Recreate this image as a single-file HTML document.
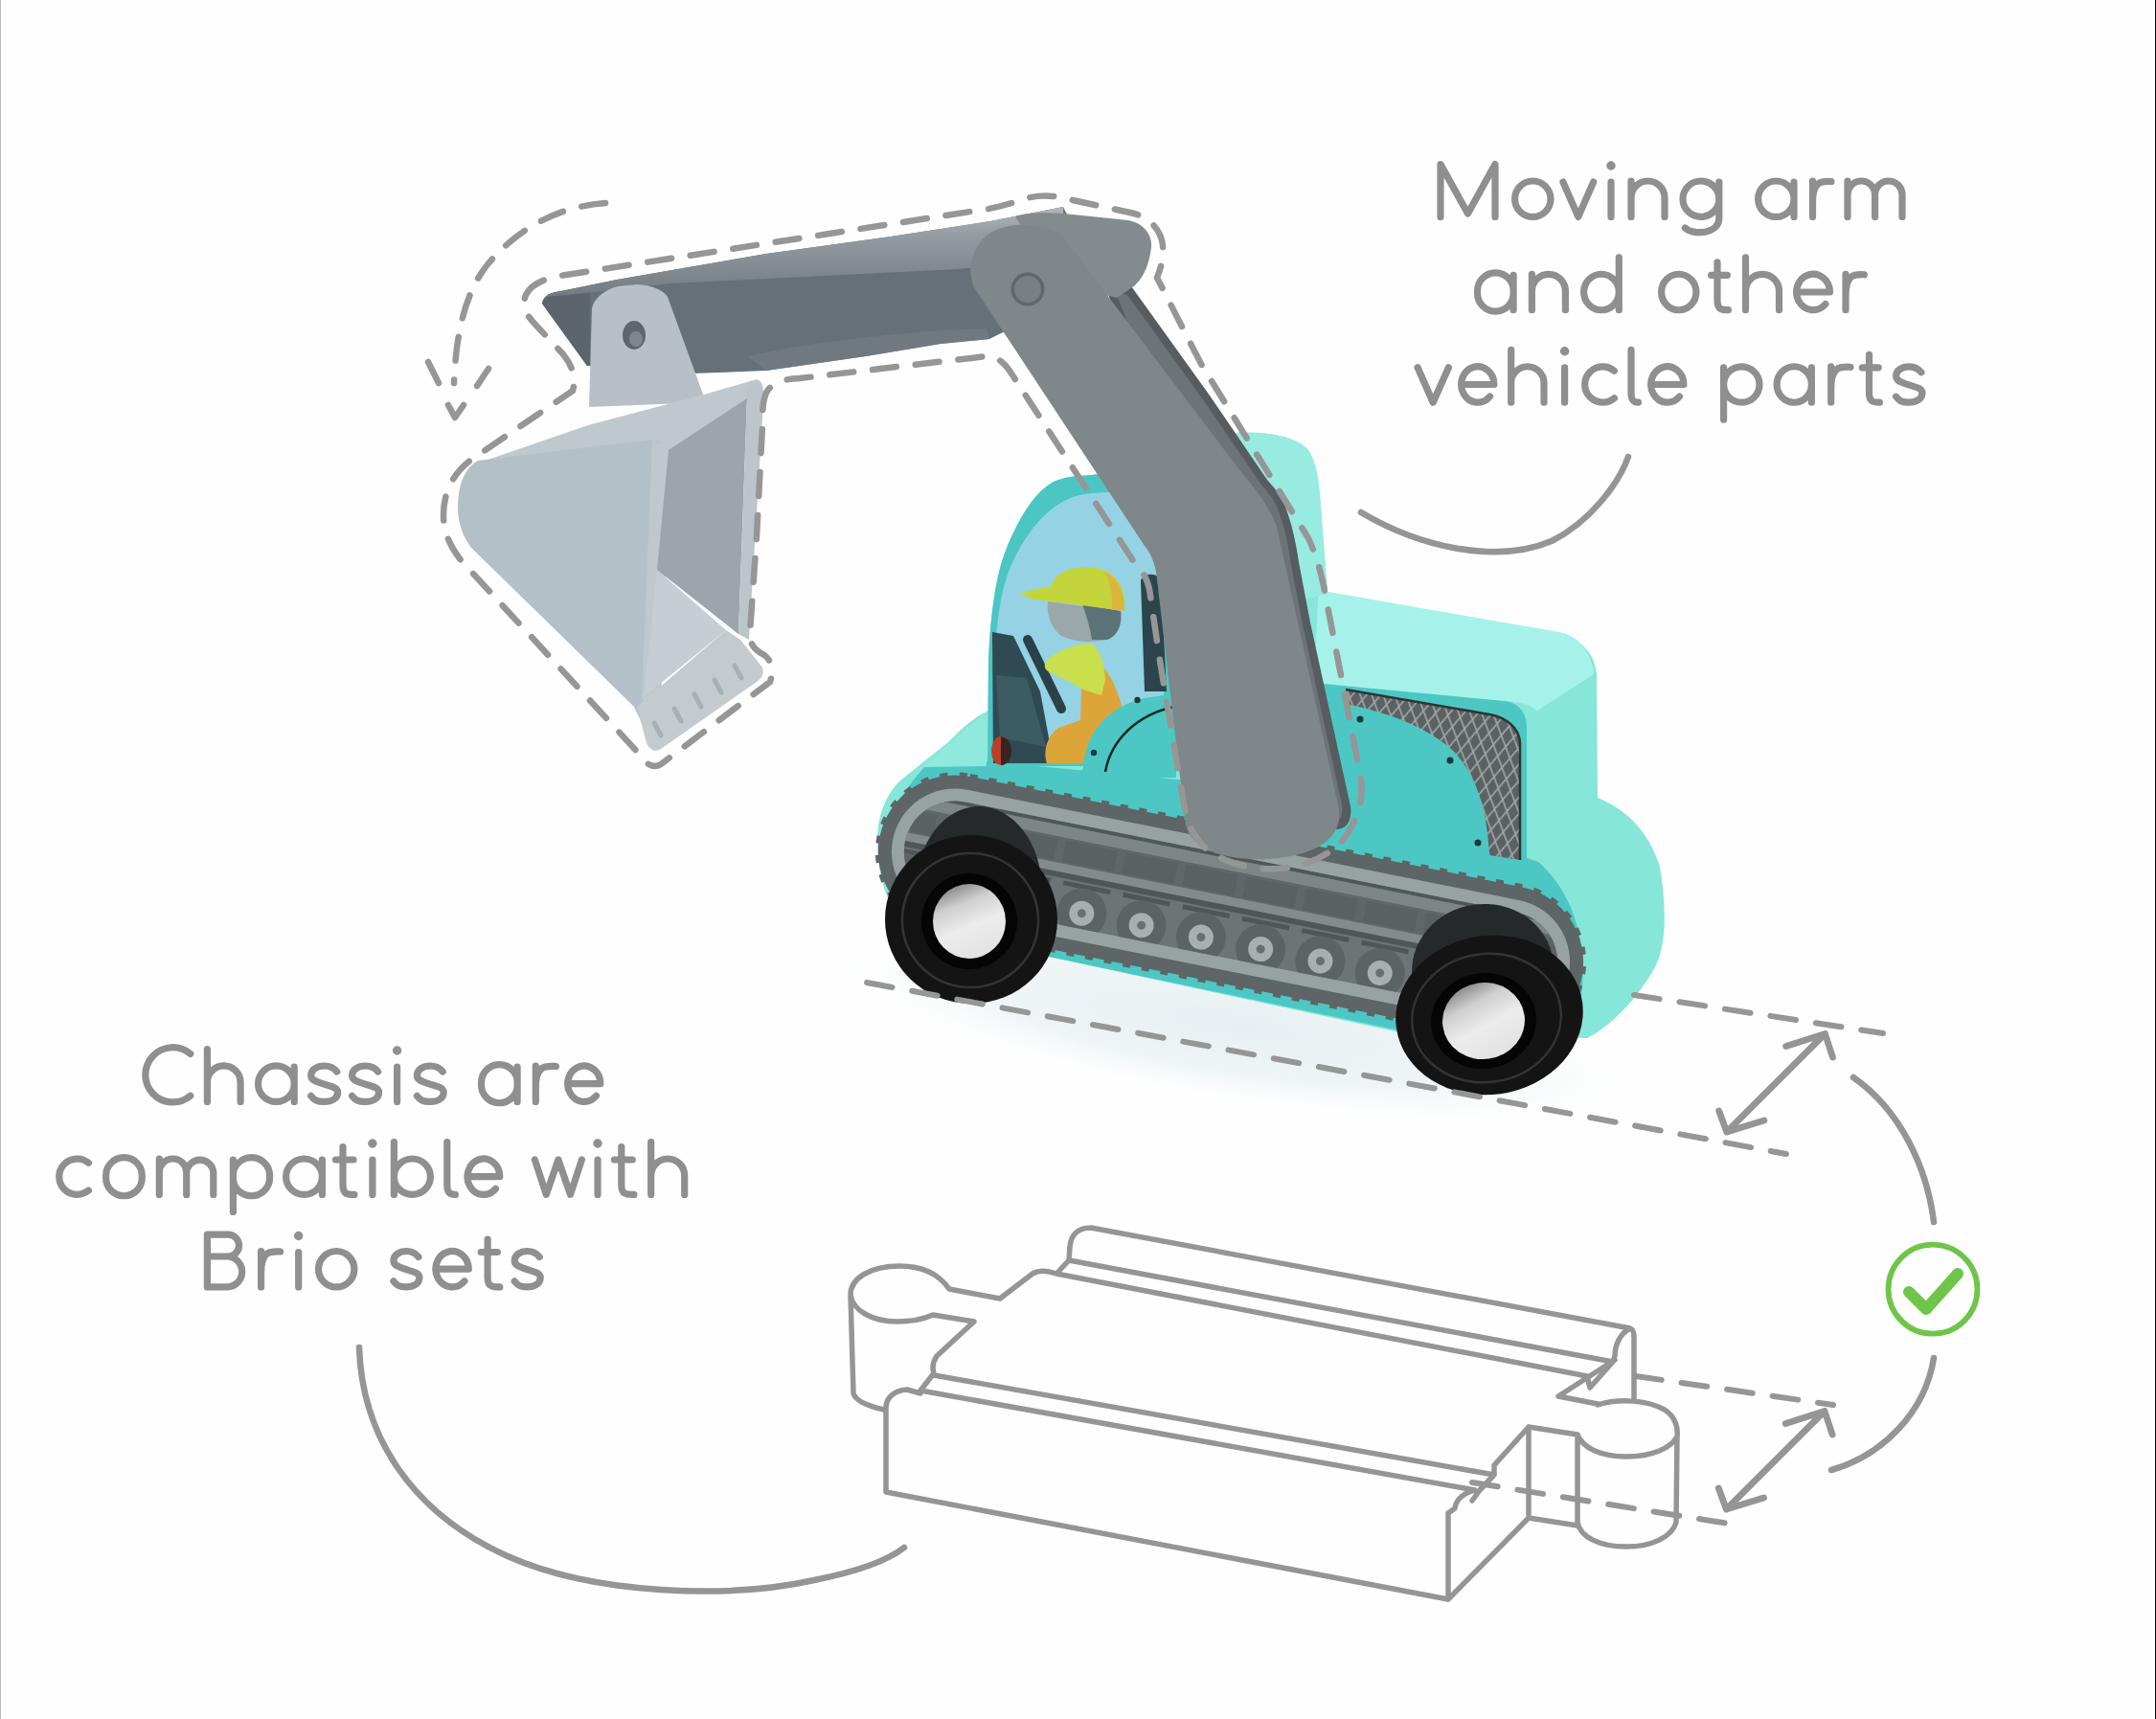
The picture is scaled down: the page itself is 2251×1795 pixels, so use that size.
<!DOCTYPE html>
<html><head><meta charset="utf-8"><title>Excavator</title>
<style>html,body{margin:0;padding:0;background:#fefefe;font-family:"Liberation Sans",sans-serif;}svg{display:block}</style>
</head><body>
<svg xmlns="http://www.w3.org/2000/svg" width="2251" height="1795" viewBox="0 0 2251 1795"><defs>
<radialGradient id="shadow" cx="0.5" cy="0.5" r="0.5"><stop offset="0" stop-color="#e6eff2"/><stop offset="0.6" stop-color="#eff5f7"/><stop offset="1" stop-color="#fefefe" stop-opacity="0"/></radialGradient>
<radialGradient id="shadow2" cx="0.5" cy="0.5" r="0.5"><stop offset="0" stop-color="#f6f8f9"/><stop offset="1" stop-color="#fefefe" stop-opacity="0"/></radialGradient>
<linearGradient id="hub" x1="0.2" y1="0" x2="0.6" y2="1"><stop offset="0" stop-color="#7c7c7c"/><stop offset="0.3" stop-color="#cfcfcf"/><stop offset="0.6" stop-color="#ececec"/><stop offset="1" stop-color="#e2e2e2"/></linearGradient>
<pattern id="grille" patternUnits="userSpaceOnUse" width="13" height="22" patternTransform="rotate(10)"><rect width="13" height="22" fill="#5b6162"/><path d="M0,0 L13,22 M13,0 L0,22" stroke="#a3aaab" stroke-width="1.6"/></pattern>
<linearGradient id="boomtop" x1="0" y1="0" x2="0.05" y2="1"><stop offset="0" stop-color="#b4babe"/><stop offset="0.35" stop-color="#959ca1"/><stop offset="1" stop-color="#737b82"/></linearGradient>
</defs><rect x="0" y="0" width="2251" height="1795" fill="#fefefe"/>
<ellipse cx="1290" cy="1070" rx="440" ry="85" transform="rotate(9 1290 1070)" fill="url(#shadow)"/>
<path fill="#86e6d9" d="M1031,800 L1032,690 C1034,640 1040,600 1050,575 C1062,545 1078,515 1100,503 C1112,498 1122,497 1140,496 L1290,452 C1330,450 1356,458 1366,470 C1374,482 1377,500 1379,530 L1386,618 L1630,662 C1652,668 1666,684 1667,705 L1668,833 C1700,846 1722,870 1733,905 C1742,960 1738,995 1725,1015 C1710,1040 1685,1070 1657,1084 L1470,1080 L1100,1000 L960,975 C930,960 916,920 916,880 C916,850 925,830 940,815 L990,775 C1005,760 1015,750 1032,742 Z"/>
<path fill="#8fe9dd" d="M924,842 C930,825 945,812 960,802 L1032,742 L1032,800 L965,801 C950,806 935,820 924,842 Z"/>
<path fill="#4cc6c2" d="M1031,800 L1032,690 C1034,640 1040,600 1050,575 C1062,545 1078,515 1100,503 C1112,498 1122,497 1140,496 L1230,486 L1230,800 Z"/>
<path fill="#4dc7c3" d="M1370,713 L1572,732 C1587,735 1594,745 1594,760 L1594,905 L1370,905 Z"/>
<path fill="#a6f2ea" d="M1379,560 L1386,618 L1628,660 C1648,664 1660,680 1663,697 L1664,704 L1605,742 C1600,738 1590,733 1572,732 L1404,716 L1372,712 Z"/>
<path fill="#98ebe0" d="M1290,452 C1330,450 1356,458 1366,470 C1374,482 1377,500 1379,530 L1386,620 L1300,640 Z"/>
<path fill="#4dc7c3" d="M1030,795 L1400,830 L1606,900 C1640,930 1660,980 1650,1050 L1470,1078 L1100,1000 L960,975 C935,955 925,920 926,880 C928,850 940,830 965,801 L1030,800 Z"/>
<path fill="#95d3e4" d="M1038,797 L1039,686 C1040,650 1045,620 1052,600 C1062,572 1080,545 1100,530 C1112,522 1120,517 1140,515 L1215,510 L1215,797 Z"/>
<path fill="#2f4a52" d="M1036,660 L1058,664 L1086,722 L1100,797 L1037,797 Z"/>
<path fill="#42626a" d="M1040,705 L1072,708 L1092,780 L1044,770 Z" opacity="0.7"/>
<path stroke="#2a4148" stroke-width="10" stroke-linecap="round" fill="none" d="M1073,668 L1108,740"/>
<path fill="#2c454c" d="M1191,606 C1193,599 1205,597 1212,604 L1218,722 L1195,722 Z"/>
<path fill="#dca53a" d="M1130,690 C1146,684 1162,702 1172,740 L1176,760 L1150,775 L1148,797 L1093,797 C1089,786 1092,770 1105,760 L1128,752 Z"/>
<path fill="#c9df4b" d="M1095,688 C1106,678 1125,672 1140,672 C1149,680 1153,692 1154,710 L1150,726 C1136,722 1126,719 1118,712 L1098,703 C1090,700 1088,694 1095,688 Z"/>
<path fill="#9aa8a9" d="M1094,628 L1160,637 C1168,648 1166,662 1155,668 C1140,672 1120,670 1108,664 C1100,658 1092,645 1094,628 Z"/>
<path fill="#5b7377" d="M1130,631 L1170,638 C1172,650 1168,664 1156,668 L1140,668 C1138,655 1134,642 1130,631 Z"/>
<path fill="#c4d53c" d="M1066,620 C1075,616 1088,614 1098,612 C1100,600 1115,592 1135,592 C1158,592 1172,606 1174,625 L1174,638 L1098,628 C1085,627 1072,625 1066,620 Z"/>
<path fill="#dbb63a" d="M1152,597 C1167,603 1174,615 1174,638 L1161,636 C1162,620 1159,606 1152,597 Z"/>
<ellipse cx="1045" cy="784" rx="10" ry="15" fill="#b8402a"/>
<path fill="#3a2420" d="M1045,769 C1052,770 1056,777 1056,784 C1056,792 1052,799 1045,799 Z"/>
<path fill="#4dc7c3" d="M1131,802 C1133,762 1160,737 1195,729 L1228,724 L1228,812 L1125,812 Z"/>
<path stroke="#17292a" stroke-width="2.5" fill="none" d="M1154,806 C1160,772 1188,746 1226,738"/>
<circle cx="1187.5" cy="731" r="3.2" fill="#1d3a3a"/><circle cx="1142" cy="786" r="3.2" fill="#1d3a3a"/>
<g transform="rotate(11.31 1285 947.1)"><rect x="912.2" y="868.0" width="745.6" height="158.2" rx="79.1" fill="none" stroke="#5d6566" stroke-width="8" stroke-dasharray="8 12"/><rect x="911.2" y="867.0" width="747.6" height="160.2" rx="80.1" fill="#5d6566" /><rect x="925.2" y="881.0" width="719.6" height="132.2" rx="66.1" fill="#97a2a3" /><rect x="938.2" y="894.0" width="693.6" height="106.2" rx="53.1" fill="#6c7475" /><clipPath id="tin"><rect x="938.2" y="894.0" width="693.6" height="106.2" rx="53.1"/></clipPath><g clip-path="url(#tin)"><rect x="911.2" y="894.0" width="747.6" height="4.0" fill="#505758"/><rect x="911.2" y="898.0" width="747.6" height="12.0" fill="#7c8687"/><rect x="911.2" y="910.0" width="747.6" height="27.0" fill="#5f6768"/><rect x="911.2" y="937.0" width="747.6" height="9.0" fill="#838c8d"/><rect x="911.2" y="946.0" width="747.6" height="6.0" fill="#4f5657"/><rect x="791.2" y="954.1" width="50" height="5" fill="#4f5657"/><circle cx="816.2" cy="984.1" r="26" fill="#5b6364"/><circle cx="816.2" cy="984.1" r="13" fill="#a7afb0"/><circle cx="816.2" cy="984.1" r="4.5" fill="#687072"/><rect x="854.7" y="954.1" width="50" height="5" fill="#4f5657"/><circle cx="879.7" cy="984.1" r="26" fill="#5b6364"/><circle cx="879.7" cy="984.1" r="13" fill="#a7afb0"/><circle cx="879.7" cy="984.1" r="4.5" fill="#687072"/><rect x="918.2" y="954.1" width="50" height="5" fill="#4f5657"/><circle cx="943.2" cy="984.1" r="26" fill="#5b6364"/><circle cx="943.2" cy="984.1" r="13" fill="#a7afb0"/><circle cx="943.2" cy="984.1" r="4.5" fill="#687072"/><rect x="981.7" y="954.1" width="50" height="5" fill="#4f5657"/><circle cx="1006.7" cy="984.1" r="26" fill="#5b6364"/><circle cx="1006.7" cy="984.1" r="13" fill="#a7afb0"/><circle cx="1006.7" cy="984.1" r="4.5" fill="#687072"/><rect x="1045.2" y="954.1" width="50" height="5" fill="#4f5657"/><circle cx="1070.2" cy="984.1" r="26" fill="#5b6364"/><circle cx="1070.2" cy="984.1" r="13" fill="#a7afb0"/><circle cx="1070.2" cy="984.1" r="4.5" fill="#687072"/><rect x="1108.7" y="954.1" width="50" height="5" fill="#4f5657"/><circle cx="1133.7" cy="984.1" r="26" fill="#5b6364"/><circle cx="1133.7" cy="984.1" r="13" fill="#a7afb0"/><circle cx="1133.7" cy="984.1" r="4.5" fill="#687072"/><rect x="1172.2" y="954.1" width="50" height="5" fill="#4f5657"/><circle cx="1197.2" cy="984.1" r="26" fill="#5b6364"/><circle cx="1197.2" cy="984.1" r="13" fill="#a7afb0"/><circle cx="1197.2" cy="984.1" r="4.5" fill="#687072"/><rect x="1235.7" y="954.1" width="50" height="5" fill="#4f5657"/><circle cx="1260.7" cy="984.1" r="26" fill="#5b6364"/><circle cx="1260.7" cy="984.1" r="13" fill="#a7afb0"/><circle cx="1260.7" cy="984.1" r="4.5" fill="#687072"/><rect x="1299.2" y="954.1" width="50" height="5" fill="#4f5657"/><circle cx="1324.2" cy="984.1" r="26" fill="#5b6364"/><circle cx="1324.2" cy="984.1" r="13" fill="#a7afb0"/><circle cx="1324.2" cy="984.1" r="4.5" fill="#687072"/><rect x="1362.7" y="954.1" width="50" height="5" fill="#4f5657"/><circle cx="1387.7" cy="984.1" r="26" fill="#5b6364"/><circle cx="1387.7" cy="984.1" r="13" fill="#a7afb0"/><circle cx="1387.7" cy="984.1" r="4.5" fill="#687072"/><rect x="1426.2" y="954.1" width="50" height="5" fill="#4f5657"/><circle cx="1451.2" cy="984.1" r="26" fill="#5b6364"/><circle cx="1451.2" cy="984.1" r="13" fill="#a7afb0"/><circle cx="1451.2" cy="984.1" r="4.5" fill="#687072"/><rect x="1489.7" y="954.1" width="50" height="5" fill="#4f5657"/><circle cx="1514.7" cy="984.1" r="26" fill="#5b6364"/><circle cx="1514.7" cy="984.1" r="13" fill="#a7afb0"/><circle cx="1514.7" cy="984.1" r="4.5" fill="#687072"/><rect x="1553.2" y="954.1" width="50" height="5" fill="#4f5657"/><circle cx="1578.2" cy="984.1" r="26" fill="#5b6364"/><circle cx="1578.2" cy="984.1" r="13" fill="#a7afb0"/><circle cx="1578.2" cy="984.1" r="4.5" fill="#687072"/><rect x="1616.7" y="954.1" width="50" height="5" fill="#4f5657"/><circle cx="1641.7" cy="984.1" r="26" fill="#5b6364"/><circle cx="1641.7" cy="984.1" r="13" fill="#a7afb0"/><circle cx="1641.7" cy="984.1" r="4.5" fill="#687072"/><rect x="911.0" y="913.0" width="55" height="22" fill="#586061" opacity="0.8"/><rect x="975.0" y="913.0" width="55" height="22" fill="#586061" opacity="0.8"/><rect x="1039.0" y="913.0" width="55" height="22" fill="#586061" opacity="0.8"/><rect x="1103.0" y="913.0" width="55" height="22" fill="#586061" opacity="0.8"/><rect x="1167.0" y="913.0" width="55" height="22" fill="#586061" opacity="0.8"/><rect x="1231.0" y="913.0" width="55" height="22" fill="#586061" opacity="0.8"/><rect x="1295.0" y="913.0" width="55" height="22" fill="#586061" opacity="0.8"/><rect x="1359.0" y="913.0" width="55" height="22" fill="#586061" opacity="0.8"/><rect x="1423.0" y="913.0" width="55" height="22" fill="#586061" opacity="0.8"/><rect x="1487.0" y="913.0" width="55" height="22" fill="#586061" opacity="0.8"/><rect x="1551.0" y="913.0" width="55" height="22" fill="#586061" opacity="0.8"/><rect x="1615.0" y="913.0" width="55" height="22" fill="#586061" opacity="0.8"/></g></g>
<path fill="url(#grille)" d="M1405,720 L1555,746 C1572,749 1587,760 1587,777 L1587,898 L1555,893 C1553,845 1540,805 1515,782 C1490,760 1450,744 1409,736 Z"/>
<path fill="none" stroke="#2f3435" stroke-width="2.5" d="M1405,720 L1555,746 C1572,749 1587,760 1587,777 L1587,898"/>
<circle cx="1420" cy="751" r="3.5" fill="#1d3a3a"/>
<circle cx="1514" cy="794" r="3.5" fill="#1d3a3a"/>
<circle cx="1543" cy="880" r="3.5" fill="#1d3a3a"/>
<g><ellipse cx="1022" cy="930" rx="66" ry="88" transform="rotate(0 1022 930)" fill="#26292a" /><ellipse cx="1014" cy="960" rx="90" ry="88" transform="rotate(0 1014 960)" fill="#141414" /><ellipse cx="1013" cy="961" rx="71" ry="70" transform="rotate(0 1013 961)" fill="none" stroke="#343434" stroke-width="2.5"/><ellipse cx="1012" cy="962" rx="50" ry="50" transform="rotate(0 1012 962)" fill="#050505" /><ellipse cx="1012" cy="962" rx="38" ry="39" transform="rotate(0 1012 962)" fill="url(#hub)" /></g>
<g><ellipse cx="1548" cy="1012" rx="74" ry="68" transform="rotate(-8 1548 1012)" fill="#26292a" /><ellipse cx="1555" cy="1060" rx="98" ry="83" transform="rotate(-8 1555 1060)" fill="#141414" /><ellipse cx="1552" cy="1063" rx="78" ry="67" transform="rotate(-8 1552 1063)" fill="none" stroke="#343434" stroke-width="2.5"/><ellipse cx="1549" cy="1066" rx="55" ry="50" transform="rotate(-8 1549 1066)" fill="#050505" /><ellipse cx="1549" cy="1066" rx="43" ry="40" transform="rotate(-8 1549 1066)" fill="url(#hub)" /></g>
<path fill="#667078" d="M566,317 C567,310 572,307 580,305 L644,292 L800,265 L930,247 L1034,231 L1110,216 L1150,296 L1033,354 L982,359 L904,372 L800,387 L722,390 L613,382 Z"/>
<path fill="#5d656c" d="M566,317 C567,310 572,307 580,305 L616,300 L616,382 L613,382 Z"/>
<path fill="url(#boomtop)" d="M570,310 C572,307 576,306 582,305 L644,292 L800,265 L930,247 L1034,231 L1110,216 L1112,272 L1000,281 L800,291 L700,296 L620,305 Z"/>
<path fill="#737b82" d="M780,372 C840,358 920,350 980,345 L1030,343 L1033,354 L982,359 L904,372 L800,387 Z" opacity="0.8"/>
<path fill="#565c60" d="M1150,290 L1179,296 L1263,413 L1323,501 C1333,512 1339,520 1342,529 C1348,545 1353,565 1356,587 L1368,650 L1410,842 C1412,858 1405,866 1395,866 L1380,866 Z"/>
<path fill="#6c7477" d="M1165,305 L1177,308 L1258,420 L1316,505 C1326,516 1332,525 1335,534 C1341,550 1345,568 1348,590 L1360,652 L1401,840 C1403,852 1398,860 1390,860 L1380,860 Z"/>
<path fill="#838b8e" d="M1060,226 C1075,221 1100,222 1120,224 L1178,230 C1194,233 1203,245 1202,258 C1200,275 1195,288 1185,298 L1166,311 L1100,295 Z"/>
<path fill="#7e8789" d="M1017,300 C1010,285 1012,262 1030,246 C1048,232 1080,230 1109,246 L1293,489 C1310,510 1325,528 1333,550 L1398,845 C1402,875 1375,893 1325,897 C1285,899 1245,890 1238,862 L1208,605 C1207,592 1203,580 1195,570 Z"/>
<circle cx="1073" cy="302" r="17.5" fill="#5f676a"/><circle cx="1073" cy="302" r="14" fill="#778084"/>
<path fill="#b6c0c6" d="M615,425 L618,322 C620,312 630,303 645,299 L665,297 C680,298 692,302 697,310 L737,420 Z"/>
<ellipse cx="662" cy="350" rx="12" ry="15" fill="#5d666b"/><ellipse cx="664" cy="354" rx="7" ry="8" fill="#7d878c"/>
<path fill="#bfc8cd" d="M495,485 L614,444 L735,412 L790,396 C796,398 798,404 796,412 L700,470 L500,495 Z"/>
<path fill="#b3c0c7" d="M499,481 L681,459 L690,462 L672,740 L683,782 L662,738 L492,572 C483,560 478,545 478,530 C478,505 486,488 499,481 Z"/>
<path fill="#bfc8cc" d="M681,459 L700,468 L690,735 L670,730 Z"/>
<path fill="#9ba5ab" d="M698,470 L780,416 L771,662 L686,595 Z"/>
<path fill="#c6ced3" d="M686,595 L758,658 L672,728 Z"/>
<path fill="#bcc5ca" d="M780,416 L779,405 L790,400 C796,402 798,410 797,420 L782,668 L771,662 Z"/>
<path fill="#c3cbcf" d="M665,738 L758,658 L773,668 L796,697 C798,703 796,708 790,712 L690,782 C684,786 678,783 675,776 Z"/>
<path stroke="#a7b0b5" stroke-width="5" stroke-linecap="round" d="M690,768 l-7,-13"/>
<path stroke="#a7b0b5" stroke-width="5" stroke-linecap="round" d="M711,753 l-7,-13"/>
<path stroke="#a7b0b5" stroke-width="5" stroke-linecap="round" d="M732,738 l-7,-13"/>
<path stroke="#a7b0b5" stroke-width="5" stroke-linecap="round" d="M753,723 l-7,-13"/>
<path stroke="#a7b0b5" stroke-width="5" stroke-linecap="round" d="M774,708 l-7,-13"/>
<path d="M549,308 C555,296 570,290 591,287 L1013,221 C1030,219 1045,216 1062,210 C1080,203 1100,203 1120,209 L1180,222 C1200,226 1212,240 1214,256 C1215,270 1212,280 1208,290 L1254,380 L1366,562 C1372,575 1378,592 1382,612 L1420,808 C1424,830 1420,850 1406,872 C1392,892 1365,905 1335,907 C1305,909 1275,900 1258,885 C1245,872 1240,860 1236,840 L1211,690 L1200,615 C1196,600 1192,596 1186,590 L1054,387 C1048,378 1040,372 1030,372 L835,395 C815,396 806,400 800,410 C796,420 796,430 796,445 L790,560 L783,660 C782,670 786,678 798,684 C806,690 808,700 804,712 L690,798 C682,803 674,798 668,788 L483,587 C470,572 463,555 463,538 C463,515 472,495 492,480 L598,408 C602,392 596,380 588,370 L560,340 C548,328 545,318 549,308 Z" fill="none" stroke="#969696" stroke-width="6.5" stroke-linecap="round" stroke-dasharray="25 20"/>
<path d="M632,212 C580,216 540,240 510,275 C485,305 476,350 474,400" fill="none" stroke="#969696" stroke-width="6.5" stroke-linecap="round" stroke-dasharray="25 20"/>
<path d="M447,378 L458,400 M510,385 L498,403" fill="none" stroke="#969696" stroke-width="6.5" stroke-linecap="round"/>
<path d="M468,423 L475,436 L484,423" fill="none" stroke="#969696" stroke-width="6.5" stroke-linecap="round" stroke-linejoin="round"/>
<path d="M905,1026 L1865,1205" fill="none" stroke="#969696" stroke-width="6" stroke-linecap="round" stroke-dasharray="27 21"/>
<path d="M1706,1039 L1966,1079" fill="none" stroke="#969696" stroke-width="6" stroke-linecap="round" stroke-dasharray="27 21"/>
<path d="M1708,1437 L1914,1467" fill="none" stroke="#969696" stroke-width="6" stroke-linecap="round" stroke-dasharray="27 21"/>
<path d="M1537,1548 L1811,1592" fill="none" stroke="#969696" stroke-width="6" stroke-linecap="round" stroke-dasharray="27 21"/>
<path d="M1905.4,1079.5 L1802.8,1182.0 M1864.7,1092.6 L1905.4,1079.5 L1913.5,1104.0 M1794.7,1160.0 L1802.8,1182.0 L1841.9,1170.0 " stroke="#959595" stroke-width="6.8" stroke-linecap="round" stroke-linejoin="round" fill="none"/>
<path d="M1905.0,1473.5 L1802.4,1576.0 M1864.3,1486.6 L1905.0,1473.5 L1913.1,1498.0 M1794.3,1554.0 L1802.4,1576.0 L1841.5,1564.0 " stroke="#959595" stroke-width="6.8" stroke-linecap="round" stroke-linejoin="round" fill="none"/>
<path d="M1935,1125 C1985,1160 2012,1220 2019,1276" fill="none" stroke="#959595" stroke-width="6.5" stroke-linecap="round"/>
<path d="M2019,1418 C2010,1475 1965,1520 1912,1535" fill="none" stroke="#959595" stroke-width="6.5" stroke-linecap="round"/>
<path d="M1421,535 C1480,570 1560,590 1620,565 C1660,545 1690,505 1700,477" fill="none" stroke="#959595" stroke-width="6.5" stroke-linecap="round"/>
<path d="M375,1407 C378,1500 430,1580 530,1625 C620,1665 760,1670 850,1650 C900,1640 930,1627 944,1616" fill="none" stroke="#959595" stroke-width="6.5" stroke-linecap="round"/>
<circle cx="2018" cy="1346.2" r="46.5" fill="none" stroke="#6fc54a" stroke-width="5.8"/>
<path d="M1993,1349 L2011,1367 L2044,1330" fill="none" stroke="#6fc54a" stroke-width="12" stroke-linecap="round" stroke-linejoin="round"/>
<path d="M1139,1282 L1702,1387 C1705,1388 1706,1392 1706,1396 L1706,1460 M1139,1282 C1125,1282 1118,1290 1117,1302 L1116,1316 L1684,1422 M1116,1316 L1103,1330 L1657,1437 M1702,1387 C1692,1392 1686,1404 1686,1416 L1684,1422 L1660,1449 L1657,1437 M1686,1420 L1627,1458 L1668,1466 M1103,1330 C1095,1327 1085,1326 1078,1330 L1044,1356 L991,1346 C980,1330 962,1322 939,1322 C910,1322 888,1334 888,1352 L891,1455 C893,1462 905,1468 923,1472 M888,1352 C890,1368 910,1380 937,1380 C955,1380 965,1377 974,1373 L1017,1380 L978,1416 C974,1422 973,1428 975,1434 L961,1452 M975,1436 L1560,1540 L1560,1530 L1596,1490 M961,1452 L1540,1556 C1530,1558 1520,1565 1519,1575 L1512,1580 M947,1451 C933,1452 925,1460 925,1470 L925,1558 L1512,1670 L1512,1580 M947,1451 L961,1455 M1512,1670 L1596,1585 L1596,1490 L1647,1498 M1596,1585 L1647,1593 M1668,1467 C1690,1460 1720,1462 1738,1472 C1750,1480 1752,1492 1751,1500 L1750,1590 C1745,1605 1725,1615 1698,1615 C1670,1615 1650,1605 1647,1590 L1647,1498 C1652,1512 1672,1521 1698,1521 C1725,1521 1745,1512 1751,1500 M1537,1567 L1545,1556 L1560,1540" fill="none" stroke="#959595" stroke-width="5.5" stroke-linecap="round" stroke-linejoin="round"/>
<path d="M1504,226.4 L1504,171.6 L1532.5,223 L1561,171.6 L1561,226.4 M1581.6,207.7 a18.7,18.7 0 1,0 37.4,0 a18.7,18.7 0 1,0 -37.4,0 M1631.9,190 L1647.8,226.4 L1663.7,190 M1682,190 L1682,226.4 M1680.9,173 a1.1,1.1 0 1,0 2.2,0 a1.1,1.1 0 1,0 -2.2,0 M1703,189 L1703,226.4 M1703,226.4 L1703,206.5 A17.5,17.5 0 0,1 1738,206.5 L1738,226.4 M1757,207.7 a18.9,18.7 0 1,0 37.8,0 a18.9,18.7 0 1,0 -37.8,0 M1794.8,190 L1794.8,228 M1794.8,228 C1794.8,244.5 1767.4,246 1759.4,238 M1835.6,207.7 a18.7,18.7 0 1,0 37.4,0 a18.7,18.7 0 1,0 -37.4,0 M1873,190 L1873,226.4 M1892.5,189 L1892.5,226.4 M1892.5,212 C1892.5,188 1902.5,189 1911.9,189.5 M1929,189 L1929,226.4 M1929,226.4 L1929,203.3 A14.3,14.3 0 0,1 1957.6,203.3 L1957.6,226.4 M1957.6,226.4 L1957.6,203.2 A14.2,14.2 0 0,1 1986,203.2 L1986,226.4 M1542.6,305 a18.8,18.7 0 1,0 37.5,0 a18.8,18.7 0 1,0 -37.5,0 M1580.1,287.3 L1580.1,323.7 M1599.4,286.3 L1599.4,323.7 M1599.4,323.7 L1599.4,303.8 A17.5,17.5 0 0,1 1634.4,303.8 L1634.4,323.7 M1653.6,305 a18.3,18.7 0 1,0 36.7,0 a18.3,18.7 0 1,0 -36.7,0 M1690.3,268.9 L1690.3,323.7 M1734.6,305 a18.1,18.7 0 1,0 36.3,0 a18.1,18.7 0 1,0 -36.3,0 M1793,273.9 L1793,313.3 C1793,322.3 1796,323.7 1804.4,323.7 M1786.6,287.3 L1803.4,287.3 M1822.5,268.9 L1822.5,323.7 M1822.5,323.7 L1822.5,303.8 A17.5,17.5 0 0,1 1857.5,303.8 L1857.5,323.7 M1875.6,305 L1910.4,305 A17.4,18.7 0 1,0 1905.9,317.5 M1927,286.3 L1927,323.7 M1927,309.3 C1927,285.3 1937,286.3 1946.4,286.8 M1480.1,383.8 L1496.2,420.2 L1512.4,383.8 M1525.6,401.5 L1559.9,401.5 A17.1,18.7 0 1,0 1555.5,414 M1577.7,365.4 L1577.7,420.2 M1577.7,420.2 L1577.7,399.9 A17.1,17.1 0 0,1 1612,399.9 L1612,420.2 M1633.6,383.8 L1633.6,420.2 M1632.5,366.8 a1.1,1.1 0 1,0 2.2,0 a1.1,1.1 0 1,0 -2.2,0 M1685.4,387.2 A18.7,18.7 0 1,0 1685.4,415.8 M1703,365.4 L1703,409.8 C1703,418.8 1706,420.2 1710.4,420.2 M1723.6,401.5 L1757.9,401.5 A17.1,18.7 0 1,0 1753.5,414 M1799.6,401.5 a18.7,18.7 0 1,0 37.4,0 a18.7,18.7 0 1,0 -37.4,0 M1799.6,383.8 L1799.6,438.2 M1855.1,401.5 a18.1,18.7 0 1,0 36.3,0 a18.1,18.7 0 1,0 -36.3,0 M1891.4,383.8 L1891.4,420.2 M1911.7,382.8 L1911.7,420.2 M1911.7,405.8 C1911.7,381.8 1921.7,382.8 1931.9,383.3 M1951.5,370.4 L1951.5,409.8 C1951.5,418.8 1954.5,420.2 1962.4,420.2 M1944.3,383.8 L1961.2,383.8 M2005.9,388.8 C2001.9,383.8 1998.2,382.8 1993.2,382.8 C1985.6,382.8 1979.6,386.8 1979.6,392.8 C1979.6,398.5 1987.6,400 1993.2,402 C1999.9,404 2006.9,405.5 2006.9,410.2 C2006.9,417.2 1999.9,420.2 1993.2,420.2 C1985.2,420.2 1982.6,418.2 1979.6,414.2 M198.8,1100.4 A28.6,28.6 0 1,0 198.8,1144.2 M216.4,1095.6 L216.4,1150.4 M216.4,1150.4 L216.4,1130.3 A17.3,17.3 0 0,1 251.1,1130.3 L251.1,1150.4 M269.5,1131.7 a18.8,18.7 0 1,0 37.7,0 a18.8,18.7 0 1,0 -37.7,0 M307.2,1114 L307.2,1150.4 M351.7,1119 C347.7,1114 343.7,1113 338.7,1113 C330.7,1113 324.7,1117 324.7,1123 C324.7,1128.7 332.7,1130.2 338.7,1132.2 C345.7,1134.2 352.7,1135.7 352.7,1140.4 C352.7,1147.4 345.7,1150.4 338.7,1150.4 C330.7,1150.4 327.7,1148.4 324.7,1144.4 M394.6,1119 C390.6,1114 386.6,1113 381.6,1113 C373.6,1113 367.6,1117 367.6,1123 C367.6,1128.7 375.6,1130.2 381.6,1132.2 C388.6,1134.2 395.6,1135.7 395.6,1140.4 C395.6,1147.4 388.6,1150.4 381.6,1150.4 C373.6,1150.4 370.6,1148.4 367.6,1144.4 M414.6,1114 L414.6,1150.4 M413.5,1097 a1.1,1.1 0 1,0 2.2,0 a1.1,1.1 0 1,0 -2.2,0 M462.2,1119 C458.2,1114 454.3,1113 449.3,1113 C441.4,1113 435.4,1117 435.4,1123 C435.4,1128.7 443.4,1130.2 449.3,1132.2 C456.2,1134.2 463.2,1135.7 463.2,1140.4 C463.2,1147.4 456.2,1150.4 449.3,1150.4 C441.3,1150.4 438.4,1148.4 435.4,1144.4 M502.6,1131.7 a18.8,18.7 0 1,0 37.5,0 a18.8,18.7 0 1,0 -37.5,0 M540.1,1114 L540.1,1150.4 M559.3,1113 L559.3,1150.4 M559.3,1136 C559.3,1112 569.3,1113 580.4,1113.5 M592.6,1131.7 L626.9,1131.7 A17.1,18.7 0 1,0 622.5,1144.2 M92.4,1214.3 A18.7,18.7 0 1,0 92.4,1243.1 M110.7,1228.7 a18.8,18.7 0 1,0 37.5,0 a18.8,18.7 0 1,0 -37.5,0 M166.3,1210 L166.3,1247.4 M166.3,1247.4 L166.3,1224.2 A14.2,14.2 0 0,1 194.7,1224.2 L194.7,1247.4 M194.7,1247.4 L194.7,1224 A14.1,14.1 0 0,1 222.8,1224 L222.8,1247.4 M243.4,1228.7 a19.1,18.7 0 1,0 38.1,0 a19.1,18.7 0 1,0 -38.1,0 M243.4,1211 L243.4,1265.4 M298.6,1228.7 a18.9,18.7 0 1,0 37.8,0 a18.9,18.7 0 1,0 -37.8,0 M336.4,1211 L336.4,1247.4 M358,1197.6 L358,1237 C358,1246 361,1247.4 369.9,1247.4 M350.5,1211 L369,1211 M388.9,1211 L388.9,1247.4 M387.8,1194 a1.1,1.1 0 1,0 2.2,0 a1.1,1.1 0 1,0 -2.2,0 M411.4,1228.7 a19,18.7 0 1,0 38,0 a19,18.7 0 1,0 -38,0 M411.4,1192.6 L411.4,1247.4 M466.8,1192.6 L466.8,1237 C466.8,1246 469.8,1247.4 475.4,1247.4 M488,1228.7 L521.8,1228.7 A16.9,18.7 0 1,0 517.5,1241.2 M558.4,1211 L570.3,1247.4 L582.9,1211 L595.5,1247.4 L607.4,1211 M624,1211 L624,1247.4 M622.9,1194 a1.1,1.1 0 1,0 2.2,0 a1.1,1.1 0 1,0 -2.2,0 M648.8,1197.6 L648.8,1237 C648.8,1246 651.8,1247.4 661.9,1247.4 M641.4,1211 L660.3,1211 M679.7,1192.6 L679.7,1247.4 M679.7,1247.4 L679.7,1227.5 A17.5,17.5 0 0,1 714.7,1227.5 L714.7,1247.4 M216.4,1343.9 L216.4,1289.1 L239.1,1289.1 A11.5,11.5 0 0,1 239.1,1312 L216.4,1312 M216.4,1312 L238,1312 A16,16 0 0,1 238,1343.9 L216.4,1343.9 M272.6,1306.5 L272.6,1343.9 M272.6,1329.5 C272.6,1305.5 282.6,1306.5 292.6,1307 M311.7,1307.5 L311.7,1343.9 M310.6,1290.5 a1.1,1.1 0 1,0 2.2,0 a1.1,1.1 0 1,0 -2.2,0 M332.5,1325.2 a18.7,18.7 0 1,0 37.4,0 a18.7,18.7 0 1,0 -37.4,0 M436.9,1312.5 C432.9,1307.5 429.4,1306.5 424.4,1306.5 C416.9,1306.5 410.9,1310.5 410.9,1316.5 C410.9,1322.2 418.9,1323.7 424.4,1325.7 C430.9,1327.7 437.9,1329.2 437.9,1333.9 C437.9,1340.9 430.9,1343.9 424.4,1343.9 C416.4,1343.9 413.9,1341.9 410.9,1337.9 M454.9,1325.2 L489.3,1325.2 A17.2,18.7 0 1,0 484.9,1337.7 M509.1,1294.1 L509.1,1333.5 C509.1,1342.5 512.1,1343.9 521.8,1343.9 M502.2,1307.5 L519.4,1307.5 M563.2,1312.5 C559.2,1307.5 555.7,1306.5 550.7,1306.5 C543.2,1306.5 537.2,1310.5 537.2,1316.5 C537.2,1322.2 545.2,1323.7 550.7,1325.7 C557.2,1327.7 564.2,1329.2 564.2,1333.9 C564.2,1340.9 557.2,1343.9 550.7,1343.9 C542.7,1343.9 540.2,1341.9 537.2,1337.9 " fill="none" stroke="#8f8f8f" stroke-width="7.2" stroke-linecap="round" stroke-linejoin="round"/>
<rect x="0" y="0" width="1" height="1795" fill="#bbbbbb"/>
<rect x="2250" y="0" width="1" height="1795" fill="#000"/></svg>
</body></html>
